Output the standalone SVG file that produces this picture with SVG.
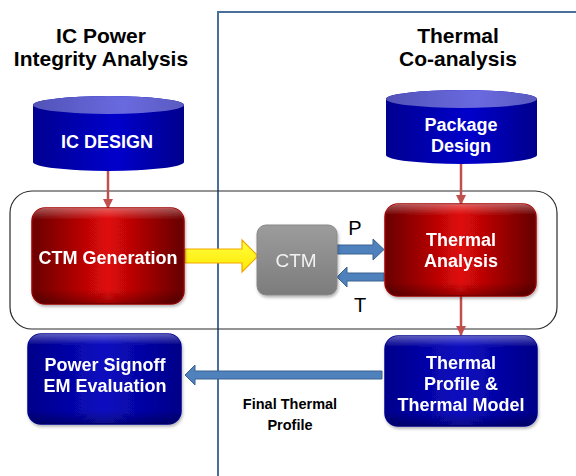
<svg xmlns="http://www.w3.org/2000/svg" width="576" height="476" viewBox="0 0 576 476">
  <style>
    .head { font-family: "Liberation Sans", Arial, sans-serif; font-weight: bold; font-size: 21px; fill: #000; text-anchor: middle; }
    .lbl { font-family: "Liberation Sans", Arial, sans-serif; font-weight: bold; font-size: 18px; fill: #fff; text-anchor: middle; }
    .plain { font-family: "Liberation Sans", Arial, sans-serif; font-size: 20px; fill: #000; text-anchor: middle; }
    .note { font-family: "Liberation Sans", Arial, sans-serif; font-weight: bold; font-size: 14.5px; fill: #000; text-anchor: middle; }
    .divider { fill: none; stroke: #4a6f9a; stroke-width: 2; }
    .frame { fill: none; stroke: #2b2b2b; stroke-width: 1.2; }
    .red { fill: url(#redFill); stroke: #a00000; stroke-width: 1.5; }
    .blue { fill: url(#blueFill); stroke: #000090; stroke-width: 1.5; }
    .gloss { fill: url(#gloss); stroke: none; }
    .link { fill: none; stroke: #c0504d; stroke-width: 2.5; marker-end: url(#redHead); }
    .steel { fill: #4f81bd; stroke: #3a6390; stroke-width: 1; }
  </style>
  <defs>
    <linearGradient id="redFill" x1="0" y1="0" x2="1" y2="0">
      <stop offset="0" stop-color="#6a0000"/>
      <stop offset="0.5" stop-color="#e00808"/>
      <stop offset="1" stop-color="#650000"/>
    </linearGradient>
    <linearGradient id="blueFill" x1="0" y1="0" x2="1" y2="0">
      <stop offset="0" stop-color="#00008a"/>
      <stop offset="0.5" stop-color="#0a0ac0"/>
      <stop offset="1" stop-color="#000088"/>
    </linearGradient>
    <linearGradient id="gloss" x1="0" y1="0" x2="0" y2="1">
      <stop offset="0" stop-color="#ffffff" stop-opacity="0.35"/>
      <stop offset="0.12" stop-color="#ffffff" stop-opacity="0"/>
      <stop offset="0.85" stop-color="#000000" stop-opacity="0"/>
      <stop offset="1" stop-color="#000000" stop-opacity="0.3"/>
    </linearGradient>
    <linearGradient id="cylBody" x1="0" y1="0" x2="1" y2="0">
      <stop offset="0" stop-color="#000090"/>
      <stop offset="0.55" stop-color="#0000cc"/>
      <stop offset="1" stop-color="#00008c"/>
    </linearGradient>
    <linearGradient id="cylTop" x1="0" y1="0" x2="1" y2="0">
      <stop offset="0" stop-color="#5252b8"/>
      <stop offset="0.6" stop-color="#6a6ae0"/>
      <stop offset="1" stop-color="#5a5ac0"/>
    </linearGradient>
    <linearGradient id="grayFill" x1="0" y1="0" x2="0" y2="1">
      <stop offset="0" stop-color="#9c9c9c"/>
      <stop offset="1" stop-color="#7c7c7c"/>
    </linearGradient>
    <linearGradient id="yellowFill" x1="0" y1="0" x2="0" y2="1">
      <stop offset="0" stop-color="#ffff40"/>
      <stop offset="1" stop-color="#ffe800"/>
    </linearGradient>
    <filter id="shadow" x="-10%" y="-10%" width="125%" height="130%">
      <feDropShadow dx="1" dy="2" stdDeviation="1.5" flood-color="#000" flood-opacity="0.3"/>
    </filter>
    <marker id="redHead" viewBox="0 0 10 10" refX="9" refY="5" markerWidth="4" markerHeight="4" orient="auto" markerUnits="strokeWidth">
      <path d="M0,0 L10,5 L0,10 Z" fill="#c0504d"/>
    </marker>
  </defs>

  <!-- section divider -->
  <path class="divider" d="M218,476 L218,12 L577,12"/>

  <!-- column headings -->
  <text class="head" x="101" y="43">IC Power</text>
  <text class="head" x="101" y="66">Integrity Analysis</text>
  <text class="head" x="458" y="43">Thermal</text>
  <text class="head" x="458" y="66">Co-analysis</text>

  <!-- co-analysis loop frame -->
  <rect class="frame" x="10" y="191" width="547" height="138" rx="22"/>

  <!-- connectors -->
  <g id="connectors">
    <line class="link" x1="108" y1="171" x2="108" y2="208"/>
    <line class="link" x1="461" y1="164" x2="461" y2="204"/>
    <line class="link" x1="461" y1="296" x2="461" y2="335"/>
    <polygon id="ctm-flow" points="185,249 242,249 242,240 258,256 242,272 242,263 185,263" fill="url(#yellowFill)" stroke="#f0a800" stroke-width="1.2"/>
    <polygon id="p-flow" class="steel" points="337,245 373,245 373,239 384,249.5 373,260 373,254 337,254"/>
    <polygon id="t-flow" class="steel" points="384,273 347,273 347,267 337,277 347,287 347,281 384,281"/>
    <polygon id="final-flow" class="steel" points="382,371 195,371 195,365 185,375 195,385 195,379 382,379"/>
    <text class="plain" x="355" y="235">P</text>
    <text class="plain" x="360" y="312">T</text>
    <text class="note" x="290" y="409">Final Thermal</text>
    <text class="note" x="290" y="430">Profile</text>
  </g>

  <!-- IC design database -->
  <g id="ic-design">
    <path d="M33,105 A75.5,9 0 0 1 184,105 L184,162 A75.5,9 0 0 1 33,162 Z" fill="url(#cylBody)"/>
    <ellipse cx="108.5" cy="105" rx="75.5" ry="9" fill="url(#cylTop)"/>
    <text class="lbl" x="107" y="148">IC DESIGN</text>
  </g>

  <!-- package design database -->
  <g id="package-design">
    <path d="M386,99 A75.5,9 0 0 1 537,99 L537,155 A75.5,9 0 0 1 386,155 Z" fill="url(#cylBody)"/>
    <ellipse cx="461.5" cy="99" rx="75.5" ry="9" fill="url(#cylTop)"/>
    <text class="lbl" x="461" y="131">Package</text>
    <text class="lbl" x="461" y="152">Design</text>
  </g>

  <!-- CTM generation -->
  <g id="ctm-generation" filter="url(#shadow)">
    <rect class="red" x="32" y="208" width="152" height="96" rx="13"/>
    <rect class="gloss" x="32" y="208" width="152" height="96" rx="13"/>
    <text class="lbl" x="108" y="264">CTM Generation</text>
  </g>

  <!-- CTM model -->
  <g id="ctm" filter="url(#shadow)">
    <rect x="257" y="225" width="80" height="70" rx="9" fill="url(#grayFill)" stroke="#888" stroke-width="1"/>
    <text x="296" y="267" font-family="'Liberation Sans', Arial, sans-serif" font-size="19" fill="#f2f2f2" text-anchor="middle">CTM</text>
  </g>

  <!-- thermal analysis -->
  <g id="thermal-analysis" filter="url(#shadow)">
    <rect class="red" x="385" y="204" width="151" height="92" rx="13"/>
    <rect class="gloss" x="385" y="204" width="151" height="92" rx="13"/>
    <text class="lbl" x="461" y="246">Thermal</text>
    <text class="lbl" x="461" y="267">Analysis</text>
  </g>

  <!-- power signoff -->
  <g id="power-signoff" filter="url(#shadow)">
    <rect class="blue" x="28" y="334" width="153" height="90" rx="13"/>
    <rect class="gloss" x="28" y="334" width="153" height="90" rx="13"/>
    <text class="lbl" x="105" y="371">Power Signoff</text>
    <text class="lbl" x="105" y="392">EM Evaluation</text>
  </g>

  <!-- thermal profile and model -->
  <g id="thermal-profile" filter="url(#shadow)">
    <rect class="blue" x="385" y="336" width="152" height="90" rx="13"/>
    <rect class="gloss" x="385" y="336" width="152" height="90" rx="13"/>
    <text class="lbl" x="461" y="369">Thermal</text>
    <text class="lbl" x="461" y="390">Profile &amp;</text>
    <text class="lbl" x="461" y="411">Thermal Model</text>
  </g>
</svg>
